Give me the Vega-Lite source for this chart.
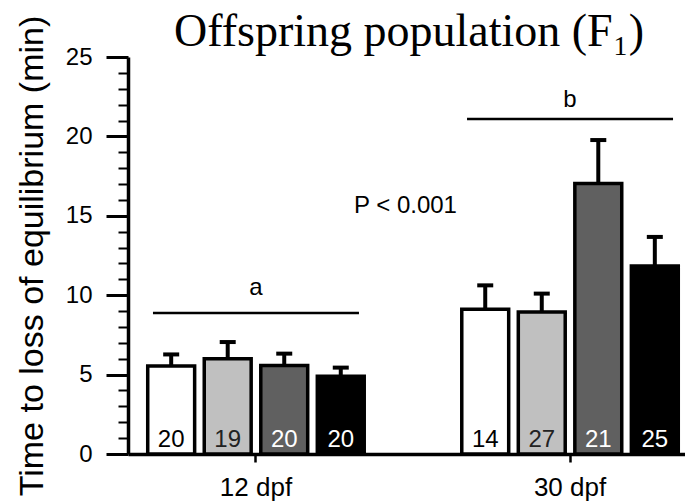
{
  "$schema": "https://vega.github.io/schema/vega-lite/v6.json",
  "autosize": {"type": "none"},
  "padding": {"left": 128, "top": 57, "right": 0, "bottom": 50},
  "width": 570,
  "height": 397,
  "background": "white",
  "title": {
    "text": "Offspring population (F₁)",
    "font": "Liberation Serif",
    "fontSize": 46,
    "fontWeight": "normal",
    "color": "black",
    "anchor": "middle",
    "frame": "group",
    "baseline": "alphabetic",
    "dx": -4,
    "offset": -77
  },
  "config": {
    "font": "Liberation Sans",
    "view": {"stroke": null},
    "axis": {"grid": false, "domainColor": "black", "tickColor": "black", "labelColor": "black", "titleColor": "black", "labelFont": "Liberation Sans", "titleFont": "Liberation Sans"}
  },
  "data": {
    "values": [
      {"grp": "12 dpf", "cond": "G1", "mean": 5.54, "upper": 6.27, "n": 20},
      {"grp": "12 dpf", "cond": "G2", "mean": 6.0, "upper": 7.05, "n": 19},
      {"grp": "12 dpf", "cond": "G3", "mean": 5.58, "upper": 6.32, "n": 20},
      {"grp": "12 dpf", "cond": "G4", "mean": 4.89, "upper": 5.44, "n": 20},
      {"grp": "30 dpf", "cond": "G1", "mean": 9.11, "upper": 10.62, "n": 14},
      {"grp": "30 dpf", "cond": "G2", "mean": 8.94, "upper": 10.1, "n": 27},
      {"grp": "30 dpf", "cond": "G3", "mean": 17.04, "upper": 19.77, "n": 21},
      {"grp": "30 dpf", "cond": "G4", "mean": 11.84, "upper": 13.67, "n": 25}
    ]
  },
  "encoding": {
    "x": {
      "field": "grp",
      "type": "nominal",
      "scale": {"domain": ["12 dpf", "30 dpf"], "paddingInner": 0.28, "paddingOuter": 0.0475},
      "axis": {
        "title": null,
        "labelAngle": 0,
        "labelFontSize": 26,
        "labelPadding": 12,
        "tickSize": 8,
        "tickWidth": 2.5,
        "domainWidth": 3.5
      }
    }
  },
  "layer": [
    {
      "mark": {"type": "bar", "stroke": "black", "strokeWidth": 3.5},
      "encoding": {
        "xOffset": {"field": "cond", "type": "nominal", "scale": {"paddingInner": 0.17, "paddingOuter": 0.085}},
        "y": {
          "field": "mean",
          "type": "quantitative",
          "scale": {"domain": [0, 25], "nice": false},
          "axis": {
            "values": [0,1,2,3,4,5,6,7,8,9,10,11,12,13,14,15,16,17,18,19,20,21,22,23,24,25],
            "tickCount": 30,
            "labelExpr": "datum.value % 5 === 0 ? datum.label : ''",
            "labelOverlap": false,
            "tickSize": {"condition": {"test": "datum.value % 5 === 0", "value": 22}, "value": 10},
            "tickWidth": {"condition": {"test": "datum.value % 5 === 0", "value": 3}, "value": 2},
            "labelFontSize": 24,
            "labelPadding": 14,
            "domainWidth": 3.5,
            "title": "Time to loss of equilibrium (min)",
            "titleFontSize": 34,
            "titleFontWeight": "normal",
            "titleAngle": -90,
            "titleBaseline": "alphabetic",
            "titleAlign": "center",
            "titleX": -86,
            "titleY": 198.5
          }
        },
        "fill": {
          "field": "cond",
          "type": "nominal",
          "scale": {"domain": ["G1", "G2", "G3", "G4"], "range": ["#ffffff", "#c0c0c0", "#606060", "#000000"]},
          "legend": null
        }
      }
    },
    {
      "mark": {"type": "rule", "strokeWidth": 4, "color": "black"},
      "encoding": {
        "xOffset": {"field": "cond", "type": "nominal"},
        "y": {"field": "mean", "type": "quantitative"},
        "y2": {"field": "upper"}
      }
    },
    {
      "mark": {"type": "tick", "size": 16, "thickness": 4, "color": "black", "opacity": 1},
      "encoding": {
        "xOffset": {"field": "cond", "type": "nominal"},
        "y": {"field": "upper", "type": "quantitative"}
      }
    },
    {
      "mark": {"type": "text", "fontSize": 24, "baseline": "alphabetic", "dy": -7},
      "encoding": {
        "xOffset": {"field": "cond", "type": "nominal"},
        "y": {"datum": 0, "type": "quantitative"},
        "text": {"field": "n", "type": "quantitative"},
        "color": {
          "field": "cond",
          "type": "nominal",
          "scale": {"domain": ["G1", "G2", "G3", "G4"], "range": ["#000000", "#222222", "#ffffff", "#ffffff"]},
          "legend": null
        }
      }
    },
    {
      "data": {"values": [
        {"grp": "12 dpf", "letter": "a", "lineY": 8.88, "letterY": 9.99},
        {"grp": "30 dpf", "letter": "b", "lineY": 21.1, "letterY": 21.85}
      ]},
      "mark": {"type": "tick", "size": 206, "thickness": 2.5, "color": "black", "opacity": 1},
      "encoding": {
        "y": {"field": "lineY", "type": "quantitative"}
      }
    },
    {
      "data": {"values": [
        {"grp": "12 dpf", "letter": "a", "lineY": 8.88, "letterY": 9.99},
        {"grp": "30 dpf", "letter": "b", "lineY": 21.1, "letterY": 21.85}
      ]},
      "mark": {"type": "text", "fontSize": 24, "baseline": "alphabetic", "color": "black"},
      "encoding": {
        "y": {"field": "letterY", "type": "quantitative"},
        "text": {"field": "letter", "type": "nominal"}
      }
    },
    {
      "data": {"values": [{"grp": "30 dpf", "label": "P < 0.001", "py": 15.2}]},
      "mark": {"type": "text", "fontSize": 24, "baseline": "alphabetic", "align": "right", "color": "black"},
      "encoding": {
        "x": {"field": "grp", "type": "nominal", "bandPosition": 0},
        "y": {"field": "py", "type": "quantitative"},
        "text": {"field": "label", "type": "nominal"}
      }
    }
  ]
}
